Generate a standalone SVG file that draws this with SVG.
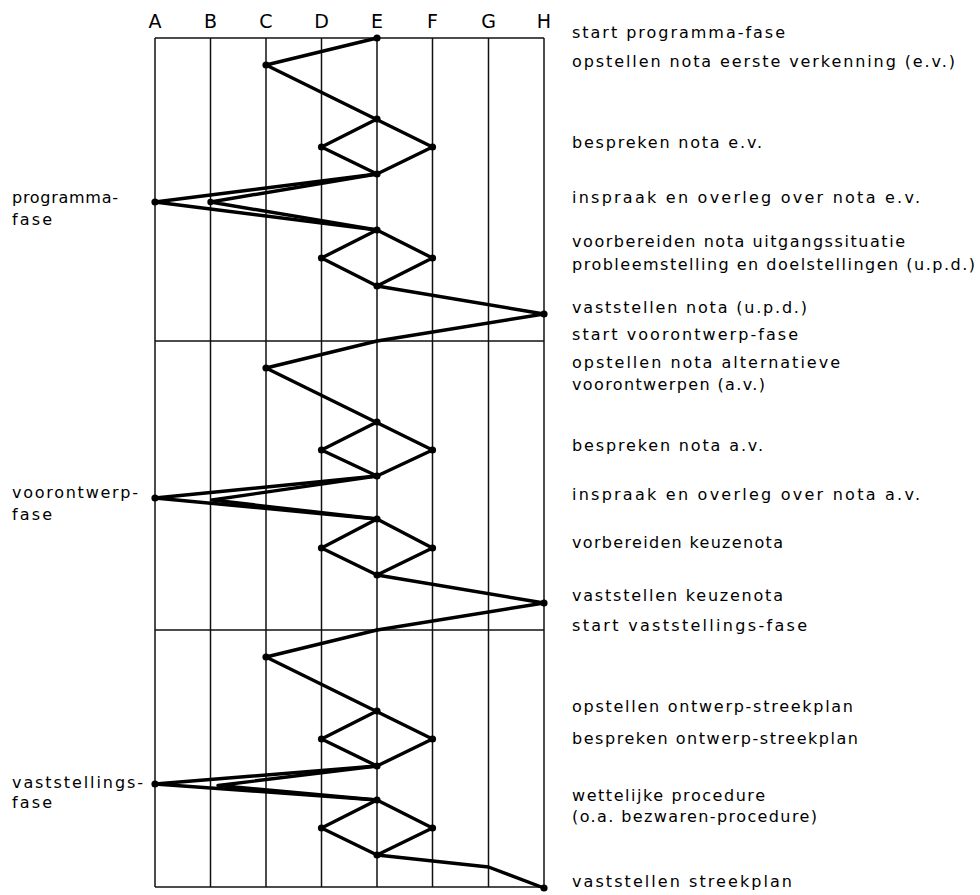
<svg xmlns="http://www.w3.org/2000/svg" width="980" height="895" viewBox="0 0 980 895">
<style>
.grid{stroke:#111;stroke-width:1.5;fill:none}
.path{stroke:#000;stroke-width:3.4;fill:none;stroke-linejoin:round;stroke-linecap:round}
.dot{fill:#000}
text{font-family:"DejaVu Sans","Liberation Sans",sans-serif;fill:#000}
.hdr{font-size:19px;text-anchor:middle}
.lbl{font-size:16px}
</style>
<rect width="980" height="895" fill="#fff"/>
<g id="grid">
<line class="grid" x1="155" y1="38" x2="155" y2="887"/>
<line class="grid" x1="210.5" y1="38" x2="210.5" y2="887"/>
<line class="grid" x1="266" y1="38" x2="266" y2="887"/>
<line class="grid" x1="321.5" y1="38" x2="321.5" y2="887"/>
<line class="grid" x1="377" y1="38" x2="377" y2="887"/>
<line class="grid" x1="432.5" y1="38" x2="432.5" y2="887"/>
<line class="grid" x1="488.5" y1="38" x2="488.5" y2="887"/>
<line class="grid" x1="544" y1="38" x2="544" y2="887"/>
<line class="grid" x1="155" y1="38" x2="544" y2="38"/>
<line class="grid" x1="155" y1="341" x2="544" y2="341"/>
<line class="grid" x1="155" y1="630" x2="544" y2="630"/>
<line class="grid" x1="155" y1="887" x2="544" y2="887"/>
</g>
<g id="column-labels">
<text class="hdr" x="155" y="28">A</text>
<text class="hdr" x="210.5" y="28">B</text>
<text class="hdr" x="266" y="28">C</text>
<text class="hdr" x="321.5" y="28">D</text>
<text class="hdr" x="377" y="28">E</text>
<text class="hdr" x="432.5" y="28">F</text>
<text class="hdr" x="488.5" y="28">G</text>
<text class="hdr" x="544" y="28">H</text>
</g>
<g id="connectors">
<polyline class="path" points="377,38 266,65 432.5,147 377,174"/>
<polyline class="path" points="377,119 321.5,147 377,174"/>
<polyline class="path" points="377,174 155,202 377,230"/>
<polyline class="path" points="377,174 210.5,202 377,230"/>
<polyline class="path" points="377,230 321.5,258 377,286 432.5,258 377,230"/>
<polyline class="path" points="377,286 544,314 377,341"/>
<polyline class="path" points="377,341 266,368 432.5,450 377,476"/>
<polyline class="path" points="377,422 321.5,450 377,476"/>
<polyline class="path" points="377,476 155,498 377,519"/>
<polyline class="path" points="377,476 212,500 377,519"/>
<polyline class="path" points="377,519 321.5,548 377,575 432.5,548 377,519"/>
<polyline class="path" points="377,575 544,603 377,630"/>
<polyline class="path" points="377,630 266,657 432.5,739 377,766"/>
<polyline class="path" points="377,711 321.5,739 377,766"/>
<polyline class="path" points="377,766 155,784 377,800"/>
<polyline class="path" points="377,766 218,785.5 377,800"/>
<polyline class="path" points="377,800 321.5,828 377,855 432.5,828 377,800"/>
<polyline class="path" points="377,855 488.5,867 544,888"/>
</g>
<g id="nodes">
<g id="n1"><circle class="dot" cx="377" cy="38" r="3.6"/><circle class="dot" cx="266" cy="65" r="3.6"/><circle class="dot" cx="377" cy="119" r="3.6"/><circle class="dot" cx="321.5" cy="147" r="3.6"/><circle class="dot" cx="432.5" cy="147" r="3.6"/><circle class="dot" cx="377" cy="174" r="3.6"/><circle class="dot" cx="155" cy="202" r="3.6"/><circle class="dot" cx="210.5" cy="202" r="3.2"/><circle class="dot" cx="377" cy="230" r="3.6"/><circle class="dot" cx="321.5" cy="258" r="3.6"/><circle class="dot" cx="432.5" cy="258" r="3.6"/><circle class="dot" cx="377" cy="286" r="3.6"/><circle class="dot" cx="544" cy="314" r="3.6"/></g>
<g id="n2"><circle class="dot" cx="266" cy="368" r="3.6"/><circle class="dot" cx="377" cy="422" r="3.6"/><circle class="dot" cx="321.5" cy="450" r="3.6"/><circle class="dot" cx="432.5" cy="450" r="3.6"/><circle class="dot" cx="377" cy="476" r="3.6"/><circle class="dot" cx="155" cy="498" r="3.6"/><circle class="dot" cx="377" cy="519" r="3.6"/><circle class="dot" cx="321.5" cy="548" r="3.6"/><circle class="dot" cx="432.5" cy="548" r="3.6"/><circle class="dot" cx="377" cy="575" r="3.6"/><circle class="dot" cx="544" cy="603" r="3.6"/></g>
<g id="n3"><circle class="dot" cx="266" cy="657" r="3.6"/><circle class="dot" cx="377" cy="711" r="3.6"/><circle class="dot" cx="321.5" cy="739" r="3.6"/><circle class="dot" cx="432.5" cy="739" r="3.6"/><circle class="dot" cx="377" cy="766" r="3.6"/><circle class="dot" cx="155" cy="784" r="3.6"/><circle class="dot" cx="377" cy="800" r="3.6"/><circle class="dot" cx="321.5" cy="828" r="3.6"/><circle class="dot" cx="432.5" cy="828" r="3.6"/><circle class="dot" cx="377" cy="855" r="3.6"/><circle class="dot" cx="544" cy="888" r="3.6"/></g>
</g>
<g id="phase-labels">
<text class="lbl" x="12" y="203" textLength="106" lengthAdjust="spacing">programma-</text>
<text class="lbl" x="12" y="225" textLength="40" lengthAdjust="spacing">fase</text>
<text class="lbl" x="12" y="498" textLength="126" lengthAdjust="spacing">voorontwerp-</text>
<text class="lbl" x="12" y="520" textLength="40" lengthAdjust="spacing">fase</text>
<text class="lbl" x="12" y="788" textLength="131" lengthAdjust="spacing">vaststellings-</text>
<text class="lbl" x="12" y="808" textLength="40" lengthAdjust="spacing">fase</text>
</g>
<g id="step-labels">
<text class="lbl" x="572" y="38" textLength="213" lengthAdjust="spacing">start programma-fase</text>
<text class="lbl" x="572" y="67" textLength="383" lengthAdjust="spacing">opstellen nota eerste verkenning (e.v.)</text>
<text class="lbl" x="572" y="148" textLength="190" lengthAdjust="spacing">bespreken nota e.v.</text>
<text class="lbl" x="572" y="203" textLength="348" lengthAdjust="spacing">inspraak en overleg over nota e.v.</text>
<text class="lbl" x="572" y="247" textLength="333" lengthAdjust="spacing">voorbereiden nota uitgangssituatie</text>
<text class="lbl" x="572" y="270" textLength="403" lengthAdjust="spacing">probleemstelling en doelstellingen (u.p.d.)</text>
<text class="lbl" x="572" y="313" textLength="235" lengthAdjust="spacing">vaststellen nota (u.p.d.)</text>
<text class="lbl" x="572" y="340" textLength="226" lengthAdjust="spacing">start voorontwerp-fase</text>
<text class="lbl" x="572" y="368" textLength="268" lengthAdjust="spacing">opstellen nota alternatieve</text>
<text class="lbl" x="572" y="390" textLength="193" lengthAdjust="spacing">voorontwerpen (a.v.)</text>
<text class="lbl" x="572" y="451" textLength="191" lengthAdjust="spacing">bespreken nota a.v.</text>
<text class="lbl" x="572" y="500" textLength="348" lengthAdjust="spacing">inspraak en overleg over nota a.v.</text>
<text class="lbl" x="572" y="548" textLength="211" lengthAdjust="spacing">vorbereiden keuzenota</text>
<text class="lbl" x="572" y="601" textLength="211" lengthAdjust="spacing">vaststellen keuzenota</text>
<text class="lbl" x="572" y="631" textLength="235" lengthAdjust="spacing">start vaststellings-fase</text>
<text class="lbl" x="572" y="712" textLength="281" lengthAdjust="spacing">opstellen ontwerp-streekplan</text>
<text class="lbl" x="572" y="744" textLength="286" lengthAdjust="spacing">bespreken ontwerp-streekplan</text>
<text class="lbl" x="572" y="801" textLength="193" lengthAdjust="spacing">wettelijke procedure</text>
<text class="lbl" x="572" y="822" textLength="245" lengthAdjust="spacing">(o.a. bezwaren-procedure)</text>
<text class="lbl" x="572" y="887" textLength="220" lengthAdjust="spacing">vaststellen streekplan</text>
</g>
</svg>
